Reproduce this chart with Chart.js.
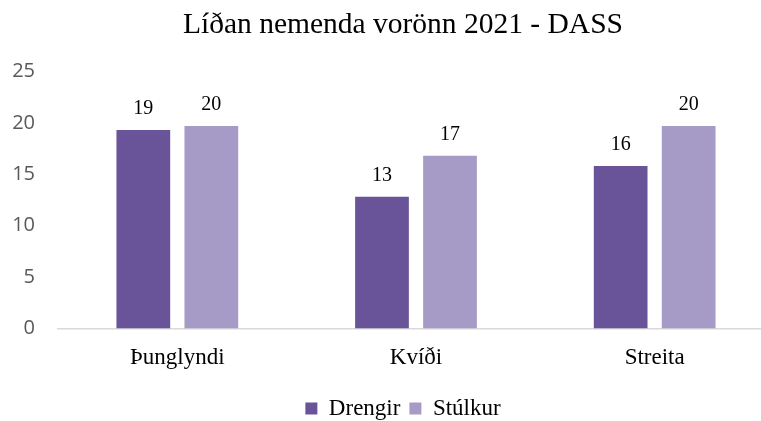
<!DOCTYPE html>
<html>
<head>
<meta charset="utf-8">
<script src="https://cdn.jsdelivr.net/npm/chart.js@4/dist/chart.umd.min.js"></script>
<style>
    html, body { margin: 0; padding: 0; background: #fff; overflow: hidden; }
    #wrap { width: 806px; height: 430px; }
</style>
</head>
<body>
<div id="wrap"><canvas id="dassChart"></canvas></div>
<script>
// Gögn lesin af myndinni
const categories = ['Þunglyndi', 'Kvíði', 'Streita'];
const drengir = [19.3, 12.8, 15.8];
const stulkur = [19.7, 16.8, 19.7];
const yTicks = [0, 5, 10, 15, 20, 25];

const colors = {
    drengir: '#6a5499',
    stulkur: '#a69bc7',
    axis: '#d9d9d9',
    tick: '#595959'
};

// Tölur fyrir ofan súlurnar (námundaðar)
const barLabels = {
    id: 'barLabels',
    afterDatasetsDraw(chart) {
        const ctx = chart.ctx;
        ctx.save();
        ctx.font = '20px "Liberation Serif"';
        ctx.fillStyle = '#000';
        ctx.textAlign = 'center';
        ctx.textBaseline = 'alphabetic';
        chart.data.datasets.forEach((ds, i) => {
            chart.getDatasetMeta(i).data.forEach((bar, j) => {
                ctx.fillText(Math.round(ds.data[j]), bar.x, bar.y - 16);
            });
        });
        ctx.restore();
    }
};

new Chart(document.getElementById('dassChart'), {
    type: 'bar',
    data: {
        labels: categories,
        datasets: [
            {
                label: 'Drengir',
                data: drengir,
                backgroundColor: colors.drengir,
                categoryPercentage: 0.57,
                barPercentage: 0.79
            },
            {
                label: 'Stúlkur',
                data: stulkur,
                backgroundColor: colors.stulkur,
                categoryPercentage: 0.57,
                barPercentage: 0.79
            }
        ]
    },
    options: {
        responsive: true,
        maintainAspectRatio: false,
        animation: false,
        layout: {
            padding: { left: 13, right: 13, top: 8, bottom: 0 }
        },
        plugins: {
            title: {
                display: true,
                text: 'Líðan nemenda vorönn 2021 - DASS',
                color: '#000',
                font: { family: 'Liberation Serif', size: 29.5, weight: 'normal' },
                padding: { top: 0, bottom: 28 }
            },
            legend: {
                position: 'bottom',
                labels: {
                    color: '#000',
                    boxWidth: 12,
                    boxHeight: 12,
                    padding: 9,
                    font: { family: 'Liberation Serif', size: 23 }
                }
            },
            tooltip: { enabled: false }
        },
        scales: {
            y: {
                min: 0,
                max: 25,
                afterBuildTicks: axis => {
                    axis.ticks = yTicks.map(v => ({ value: v }));
                },
                afterFit: axis => {
                    axis.width = 45;
                },
                grid: { display: false, drawTicks: false },
                border: { display: false },
                ticks: {
                    color: colors.tick,
                    padding: 23,
                    font: { family: 'Open Sans', size: 20 }
                }
            },
            // tómt bil hægra megin, svo titill og skýringar sitji eins og á myndinni
            yRight: {
                position: 'right',
                afterFit: axis => {
                    axis.width = 19;
                },
                grid: { display: false, drawTicks: false },
                border: { display: false },
                ticks: { display: false }
            },
            x: {
                grid: { display: false, drawTicks: false },
                border: { display: true, color: colors.axis, width: 1.5 },
                ticks: {
                    color: '#000',
                    padding: 16,
                    font: { family: 'Liberation Serif', size: 23 }
                }
            }
        }
    },
    plugins: [barLabels]
});
</script>
</body>
</html>
